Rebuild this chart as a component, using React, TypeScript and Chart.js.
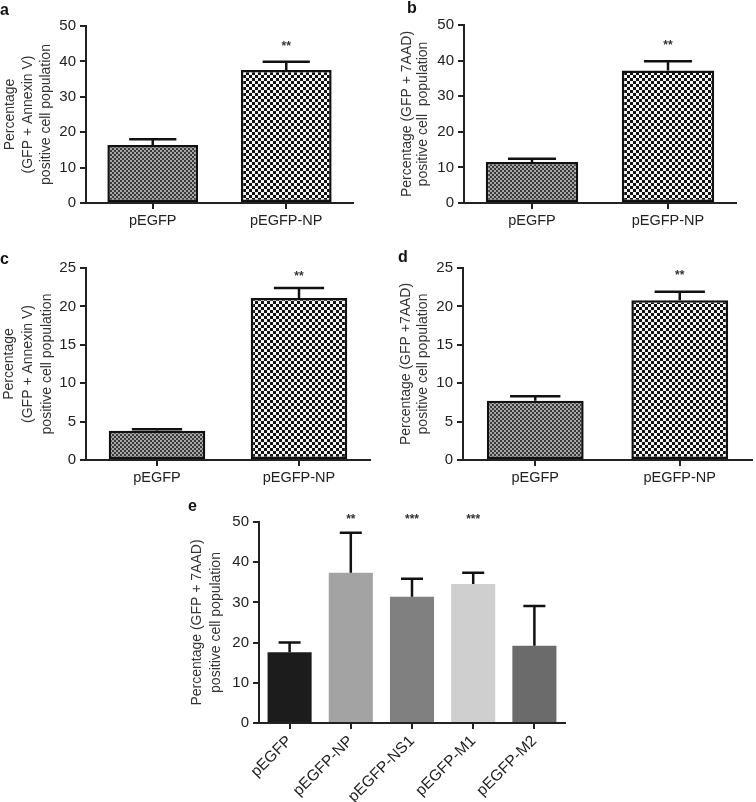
import React, { useEffect, useRef } from "react";
import { Chart, registerables } from "chart.js";

Chart.register(...registerables);

const FONT = "'Liberation Sans', Arial, Helvetica, sans-serif";

// ---- categories ----
const pairCategories = ["pEGFP", "pEGFP-NP"];
const constructCategories = ["pEGFP", "pEGFP-NP", "pEGFP-NS1", "pEGFP-M1", "pEGFP-M2"];

// ---- panel a: GFP + Annexin V ----
const aMeans = [16.4, 37.6];
const aErrors = [1.6, 2.3];
const aStars = ["", "**"];

// ---- panel b: GFP + 7AAD ----
const bMeans = [11.5, 37.2];
const bErrors = [0.9, 2.6];
const bStars = ["", "**"];

// ---- panel c: GFP + Annexin V ----
const cMeans = [3.8, 21.1];
const cErrors = [0.2, 1.3];
const cStars = ["", "**"];

// ---- panel d: GFP + 7AAD ----
const dMeans = [7.7, 20.8];
const dErrors = [0.6, 1.1];
const dStars = ["", "**"];

// ---- panel e: GFP + 7AAD, five constructs ----
const eMeans = [17.6, 37.4, 31.4, 34.6, 19.2];
const eErrors = [2.4, 9.9, 4.5, 2.8, 9.9];
const eStars = ["", "**", "***", "***", ""];

// ---- y axis ranges ----
const yMax50 = 50;
const yStep10 = 10;
const yMax25 = 25;
const yStep5 = 5;

// ---- axis titles ----
const titleAnnexin = ["Percentage", "(GFP + Annexin V)", "positive cell population"];
const title7AADb = ["Percentage (GFP + 7AAD)", "positive cell  population"];
const title7AADd = ["Percentage (GFP +7AAD)", "positive cell population"];
const title7AADe = ["Percentage (GFP + 7AAD)", "positive cell population"];

const eColors = ["#1c1c1c", "#a3a3a3", "#808080", "#cfcfcf", "#6b6b6b"];

type Panel = {
  letter: string;
  letterPos: [number, number];
  box: [number, number, number, number]; // canvas x, y, w, h (page)
  area: [number, number, number, number]; // chart area L, T, R, B (page)
  labels: string[];
  means: number[];
  errors: number[];
  stars: string[];
  starLevel: number;
  yMax: number;
  yStep: number;
  title: string[];
  titleX: number; // page x of first title line center
  titleGap: number;
  barPct: number;
  patterned: boolean;
  rotate: boolean;
  capRatio: number;
  xFont: number;
};

const panels: Panel[] = [
  {
    letter: "a", letterPos: [0, 2], box: [0, 0, 378, 250], area: [86, 26, 353, 203],
    labels: pairCategories, means: aMeans, errors: aErrors, stars: aStars, starLevel: 45,
    yMax: yMax50, yStep: yStep10, title: titleAnnexin, titleX: 10, titleGap: 18,
    barPct: 0.68, patterned: true, rotate: false, capRatio: 0.52, xFont: 14.5,
  },
  {
    letter: "b", letterPos: [407, 0], box: [378, 0, 378, 250], area: [464, 25, 736, 203],
    labels: pairCategories, means: bMeans, errors: bErrors, stars: bStars, starLevel: 45,
    yMax: yMax50, yStep: yStep10, title: title7AADb, titleX: 407, titleGap: 16,
    barPct: 0.68, patterned: true, rotate: false, capRatio: 0.52, xFont: 14.5,
  },
  {
    letter: "c", letterPos: [0, 251], box: [0, 250, 378, 250], area: [86, 268, 370, 460],
    labels: pairCategories, means: cMeans, errors: cErrors, stars: cStars, starLevel: 24.3,
    yMax: yMax25, yStep: yStep5, title: titleAnnexin, titleX: 9, titleGap: 19,
    barPct: 0.68, patterned: true, rotate: false, capRatio: 0.52, xFont: 14.5,
  },
  {
    letter: "d", letterPos: [398, 249], box: [378, 250, 378, 250], area: [463, 268, 752, 460],
    labels: pairCategories, means: dMeans, errors: dErrors, stars: dStars, starLevel: 24.4,
    yMax: yMax25, yStep: yStep5, title: title7AADd, titleX: 406, titleGap: 17,
    barPct: 0.67, patterned: true, rotate: false, capRatio: 0.52, xFont: 14.5,
  },
  {
    letter: "e", letterPos: [188, 498], box: [180, 500, 420, 302], area: [259, 522, 565, 723],
    labels: constructCategories, means: eMeans, errors: eErrors, stars: eStars, starLevel: 51.3,
    yMax: yMax50, yStep: yStep10, title: title7AADe, titleX: 197, titleGap: 19,
    barPct: 0.72, patterned: false, rotate: true, capRatio: 0.5, xFont: 15.5,
  },
];

function checker(cell: number, a: string, b: string, ctx: CanvasRenderingContext2D) {
  const c = document.createElement("canvas");
  c.width = cell * 2;
  c.height = cell * 2;
  const g = c.getContext("2d")!;
  g.fillStyle = a;
  g.fillRect(0, 0, cell * 2, cell * 2);
  g.fillStyle = b;
  g.fillRect(0, 0, cell, cell);
  g.fillRect(cell, cell, cell, cell);
  return ctx.createPattern(c, "repeat")!;
}

const errorBarPlugin = {
  id: "errorBars",
  afterDatasetsDraw(chart: any, _args: any, opts: any) {
    const { ctx } = chart;
    const y = chart.scales.y;
    const meta = chart.getDatasetMeta(0);
    const means = chart.data.datasets[0].data as number[];
    ctx.save();
    ctx.strokeStyle = "#111";
    ctx.lineWidth = 2.5;
    meta.data.forEach((bar: any, i: number) => {
      const e = opts.errors[i];
      const yTop = y.getPixelForValue(means[i] + e);
      const yBase = y.getPixelForValue(means[i]);
      const half = (bar.width * opts.capRatio) / 2;
      ctx.beginPath();
      ctx.moveTo(bar.x, yBase);
      ctx.lineTo(bar.x, yTop);
      ctx.moveTo(bar.x - half, yTop);
      ctx.lineTo(bar.x + half, yTop);
      ctx.stroke();
      const s = opts.stars[i];
      if (s) {
        ctx.font = `bold 12px ${FONT}`;
        ctx.fillStyle = "#333";
        ctx.textAlign = "center";
        ctx.textBaseline = "alphabetic";
        ctx.fillText(s, bar.x, y.getPixelForValue(opts.starLevel) + 6.5);
      }
    });
    ctx.restore();
  },
};

function buildConfig(p: Panel, ctx: CanvasRenderingContext2D): any {
  const [bx, by, bw, bh] = p.box;
  const [L, T, R, B] = p.area;
  const titleSize = 14;
  const lineHeight = p.titleGap / titleSize;
  const padLeft = p.titleX - bx - p.titleGap / 2;
  const yWidth = L - bx - padLeft;
  const xHeight = by + bh - B;
  const fine = checker(2, "#a6a6a6", "#3a3a3a", ctx);
  const coarse = checker(3, "#f6f6f6", "#111111", ctx);
  const bg = p.patterned ? [fine, coarse] : eColors;
  return {
    type: "bar",
    data: {
      labels: p.labels,
      datasets: [
        {
          data: p.means,
          backgroundColor: bg,
          borderColor: "#111",
          borderWidth: p.patterned ? 2.5 : 0,
          borderSkipped: false,
          barPercentage: p.barPct,
          categoryPercentage: 1,
        },
      ],
    },
    options: {
      responsive: false,
      animation: false,
      devicePixelRatio: 1,
      layout: { padding: { left: padLeft, top: T - by, right: bx + bw - R, bottom: 0 } },
      plugins: {
        legend: { display: false },
        tooltip: { enabled: false },
        errorBars: { errors: p.errors, stars: p.stars, starLevel: p.starLevel, capRatio: p.capRatio },
      },
      scales: {
        x: {
          afterFit: (s: any) => { s.height = xHeight; },
          grid: { display: true, drawOnChartArea: false, drawTicks: true, tickLength: 6, lineWidth: 2, color: "#222", offset: false },
          border: { display: true, width: 2, color: "#222" },
          ticks: {
            font: { family: FONT, size: p.xFont },
            color: "#222",
            padding: 3,
            autoSkip: false,
            maxRotation: p.rotate ? 45 : 0,
            minRotation: p.rotate ? 45 : 0,
          },
        },
        y: {
          min: 0,
          max: p.yMax,
          afterFit: (s: any) => { s.width = yWidth; },
          grid: { display: true, drawOnChartArea: false, drawTicks: true, tickLength: 6, lineWidth: 2, color: "#222" },
          border: { display: true, width: 2, color: "#222" },
          ticks: { stepSize: p.yStep, font: { family: FONT, size: 15 }, color: "#222", padding: 4 },
          title: {
            display: true,
            text: p.title,
            color: "#333",
            font: { family: FONT, size: titleSize, lineHeight },
            padding: 0,
          },
        },
      },
    },
    plugins: [errorBarPlugin],
  };
}

function PanelChart({ p }: { p: Panel }) {
  const ref = useRef<HTMLCanvasElement>(null);
  useEffect(() => {
    const canvas = ref.current!;
    const ctx = canvas.getContext("2d")!;
    const chart = new Chart(canvas, buildConfig(p, ctx));
    return () => chart.destroy();
  }, [p]);
  const [x, y, w, h] = p.box;
  return (
    <>
      <canvas
        ref={ref}
        width={w}
        height={h}
        style={{ position: "absolute", left: x, top: y, width: w, height: h }}
      />
      <div
        style={{
          position: "absolute",
          left: p.letterPos[0],
          top: p.letterPos[1],
          font: `bold 16px ${FONT}`,
          lineHeight: "16px",
          color: "#111",
        }}
      >
        {p.letter}
      </div>
    </>
  );
}

export default function App() {
  return (
    <div style={{ position: "absolute", left: 0, top: 0, width: 756, height: 802, background: "#fff", overflow: "hidden" }}>
      {panels.map((p) => (
        <PanelChart key={p.letter} p={p} />
      ))}
    </div>
  );
}
